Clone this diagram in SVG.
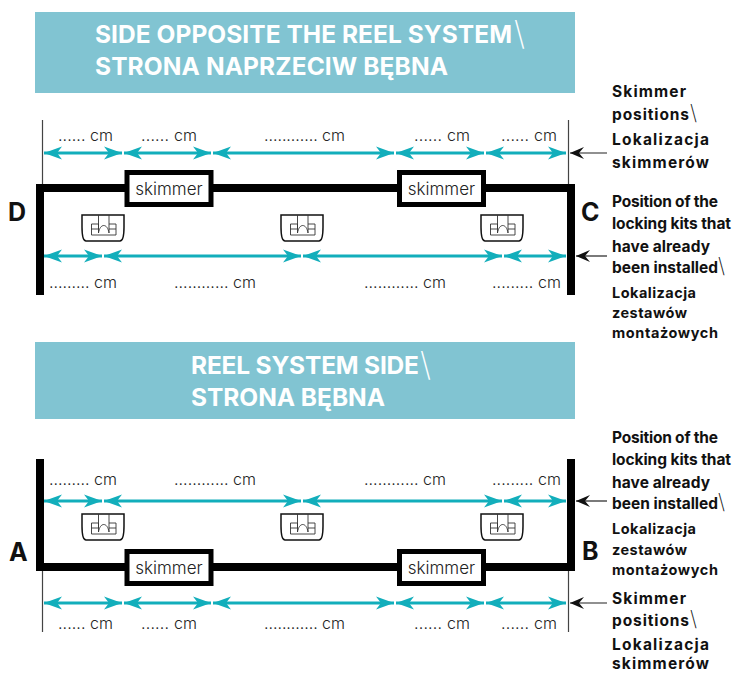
<svg xmlns="http://www.w3.org/2000/svg" width="734" height="673" viewBox="0 0 734 673">
<style>
text{font-family:"Inter","Liberation Sans",sans-serif;fill:#1a1a1a}
.h{font-size:24.500px;font-weight:700;fill:#fff}
.hs{font-size:33px;font-weight:200;fill:#fff}
.b{fill:#81c4d2}
.d{font-size:16px;font-weight:300;fill:#222}
.n{font-size:15.5px;font-weight:700;fill:#111}
.m{font-size:14.500px}
.s{font-weight:200;font-size:21px}
.l{font-size:25px;font-weight:700;fill:#111}
.sk{font-size:17px;font-weight:300;fill:#222;text-anchor:middle}
.wall{fill:none;stroke:#000;stroke-width:8}
.thin{stroke:#444;stroke-width:1.200;fill:none}
.dim{stroke:#12aebb;stroke-width:3;fill:none;marker-start:url(#ts);marker-end:url(#te)}
.ptr{stroke:#222;stroke-width:1.200;fill:none;marker-end:url(#pa)}
.box{fill:#fff;stroke:#000;stroke-width:5}
</style>
<defs>
<marker id="te" markerUnits="userSpaceOnUse" markerWidth="18" markerHeight="14" refX="18" refY="7" orient="auto"><path d="M18 7L0 0.500L5 7L0 13.500Z" fill="#12aebb"/></marker>
<marker id="ts" markerUnits="userSpaceOnUse" markerWidth="18" markerHeight="14" refX="0" refY="7" orient="auto"><path d="M0 7L18 0.500L13 7L18 13.500Z" fill="#12aebb"/></marker>
<marker id="pa" markerUnits="userSpaceOnUse" markerWidth="14" markerHeight="12" refX="14" refY="6" orient="auto"><path d="M14 6L0 0L5 6L0 12Z" fill="#111"/></marker>
<g id="kit">
<path d="M-21 -13H21V-1C21 6 20 13 17 13H-17C-20 13 -21 6 -21 -1Z" fill="#fff" stroke="#111" stroke-width="1.500"/>
<path d="M-11.500 -4H-4.500M6 -4H13V7H-11.500V-4M-11.500 1H-4.500V-4M6 1H13M-4.500 -13V5M6 -13V5M-4.500 5C-3 -5 4.500 -5 6 5" fill="none" stroke="#333" stroke-width="0.900"/>
</g>
</defs>
<g id="banner-top"><rect class="b" x="35" y="12" width="540" height="81"/>
<text class="h" x="95" y="42.500" textLength="417">SIDE OPPOSITE THE REEL SYSTEM</text><text class="hs" x="514" y="45">\</text>
<text class="h" x="95" y="74.500" textLength="353">STRONA NAPRZECIW BĘBNA</text></g>
<g id="banner-bottom"><rect class="b" x="35" y="342" width="540" height="77"/>
<text class="h" x="191" y="374" textLength="228">REEL SYSTEM SIDE</text><text class="hs" x="420" y="376">\</text>
<text class="h" x="191" y="406" textLength="194">STRONA BĘBNA</text></g>
<g id="connectors">
<path class="thin" d="M42.500 120V184M568.500 120V184M42.500 570V632M568.500 570V632"/>
<path class="wall" d="M40 295V188H571V295"/>
<path class="wall" d="M40 459V567H571V459"/>
<path class="dim" d="M44 153H122"/><path class="dim" d="M124 153H211"/><path class="dim" d="M213 153H394"/><path class="dim" d="M396 153H484"/><path class="dim" d="M486 153H566"/>
<path class="dim" d="M44 256H102"/><path class="dim" d="M104 256H301"/><path class="dim" d="M303 256H502"/><path class="dim" d="M504 256H566"/>
<path class="dim" d="M44 501H102"/><path class="dim" d="M104 501H301"/><path class="dim" d="M303 501H502"/><path class="dim" d="M504 501H566"/>
<path class="dim" d="M44 603H122"/><path class="dim" d="M124 603H211"/><path class="dim" d="M213 603H394"/><path class="dim" d="M396 603H484"/><path class="dim" d="M486 603H566"/>
<path class="ptr" d="M607 153H570"/><path class="ptr" d="M607 256H576"/><path class="ptr" d="M607 501H576"/><path class="ptr" d="M607 603H570"/>
</g>
<g id="skimmer-d"><rect class="box" x="127" y="172.500" width="84" height="32"/><text class="sk" x="169" y="195">skimmer</text></g>
<g id="skimmer-c"><rect class="box" x="399.500" y="172.500" width="84" height="32"/><text class="sk" x="441.500" y="195">skimmer</text></g>
<g id="skimmer-a"><rect class="box" x="127" y="551.500" width="84" height="32"/><text class="sk" x="169" y="574">skimmer</text></g>
<g id="skimmer-b"><rect class="box" x="399.500" y="551.500" width="84" height="32"/><text class="sk" x="441.500" y="574">skimmer</text></g>
<g id="kits">
<use href="#kit" x="103" y="228"/><use href="#kit" x="302" y="228"/><use href="#kit" x="502" y="228"/>
<use href="#kit" x="103" y="527"/><use href="#kit" x="302" y="527"/><use href="#kit" x="502" y="527"/>
</g>
<g id="labels">
<text class="l" x="8" y="221">D</text><text class="l" x="581" y="221">C</text><text class="l" x="9" y="561">A</text><text class="l" x="582" y="560">B</text>
<text class="d" x="58" y="141" textLength="55">...... cm</text><text class="d" x="141" y="141" textLength="56">...... cm</text><text class="d" x="264" y="141" textLength="81">............ cm</text><text class="d" x="414" y="141" textLength="56">...... cm</text><text class="d" x="501" y="141" textLength="56">...... cm</text>
<text class="d" x="49" y="288" textLength="68">......... cm</text><text class="d" x="174" y="288" textLength="82">............ cm</text><text class="d" x="364" y="288" textLength="82">............ cm</text><text class="d" x="492" y="288" textLength="69">......... cm</text>
<text class="d" x="49" y="485" textLength="68">......... cm</text><text class="d" x="174" y="485" textLength="82">............ cm</text><text class="d" x="364" y="485" textLength="82">............ cm</text><text class="d" x="492" y="485" textLength="69">......... cm</text>
<text class="d" x="58" y="629" textLength="55">...... cm</text><text class="d" x="141" y="629" textLength="56">...... cm</text><text class="d" x="264" y="629" textLength="81">............ cm</text><text class="d" x="414" y="629" textLength="56">...... cm</text><text class="d" x="501" y="629" textLength="56">...... cm</text>
<text class="n" x="612" y="97" textLength="74">Skimmer</text><text class="n" x="612" y="120"><tspan textLength="77">positions</tspan><tspan class="s">\</tspan></text><text class="n" x="612" y="145" textLength="97">Lokalizacja</text><text class="n" x="612" y="168" textLength="97">skimmerów</text>
<text class="n" x="612" y="207" textLength="106">Position of the</text><text class="n" x="612" y="229" textLength="119">locking kits that</text><text class="n" x="612" y="252" textLength="98">have already</text><text class="n" x="612" y="273"><tspan textLength="106">been installed</tspan><tspan class="s">\</tspan></text><text class="n m" x="612" y="298" textLength="84">Lokalizacja</text><text class="n m" x="612" y="318" textLength="75">zestawów</text><text class="n m" x="612" y="338" textLength="106">montażowych</text>
<text class="n" x="612" y="443" textLength="106">Position of the</text><text class="n" x="612" y="465" textLength="119">locking kits that</text><text class="n" x="612" y="488" textLength="98">have already</text><text class="n" x="612" y="509"><tspan textLength="106">been installed</tspan><tspan class="s">\</tspan></text><text class="n m" x="612" y="534" textLength="84">Lokalizacja</text><text class="n m" x="612" y="555" textLength="75">zestawów</text><text class="n m" x="612" y="575" textLength="106">montażowych</text>
<text class="n" x="612" y="604" textLength="74">Skimmer</text><text class="n" x="612" y="626"><tspan textLength="77">positions</tspan><tspan class="s">\</tspan></text><text class="n" x="612" y="650" textLength="97">Lokalizacja</text><text class="n" x="612" y="669" textLength="97">skimmerów</text>
</g>
</svg>
